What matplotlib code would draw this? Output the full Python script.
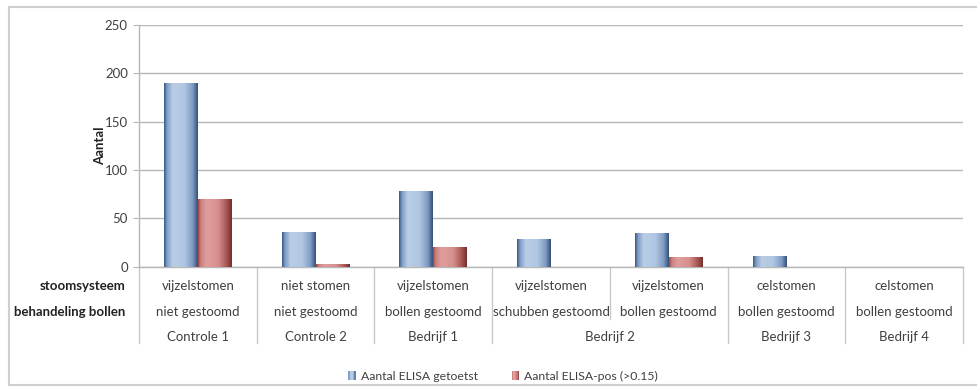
import numpy as np
import matplotlib
matplotlib.use("Agg")
import matplotlib.pyplot as plt
from matplotlib.colors import LinearSegmentedColormap
from matplotlib.legend_handler import HandlerBase
from matplotlib.patches import Rectangle
from matplotlib.lines import Line2D
import matplotlib.transforms as mtransforms

plt.rcParams['font.family'] = ['Lato', 'DejaVu Sans']

# --- data -------------------------------------------------------------
stoomsysteem = ["vijzelstomen", "niet stomen", "vijzelstomen", "vijzelstomen",
                "vijzelstomen", "celstomen", "celstomen"]
behandeling = ["niet gestoomd", "niet gestoomd", "bollen gestoomd",
               "schubben gestoomd", "bollen gestoomd", "bollen gestoomd",
               "bollen gestoomd"]
bedrijven = ["Controle 1", "Controle 2", "Bedrijf 1", "Bedrijf 2",
             "Bedrijf 3", "Bedrijf 4"]
bedrijf_span = [1, 1, 1, 2, 1, 1]          # number of categories per company
getoetst = [190, 36, 78, 28, 35, 11, 0]
elisa_pos = [70, 3, 20, 0, 10, 0, 0]
series_names = ["Aantal ELISA getoetst", "Aantal ELISA-pos (>0.15)"]
yticks = [0, 50, 100, 150, 200, 250]

# --- styling ----------------------------------------------------------
blue_cmap = LinearSegmentedColormap.from_list("blue_bar", [
    (0.00, "#3a5a85"), (0.08, "#7d9bc5"), (0.25, "#b9cde5"),
    (0.60, "#b0c6e2"), (0.85, "#7f9cc4"), (1.00, "#36527a")])
red_cmap = LinearSegmentedColormap.from_list("red_bar", [
    (0.00, "#a04a48"), (0.08, "#cd8280"), (0.25, "#df9f9d"),
    (0.60, "#d68f8d"), (0.85, "#a85553"), (1.00, "#74302e")])
cmaps = [blue_cmap, red_cmap]
text_col = "#404040"
grid_col = "#b7b7b7"

W, H = 978, 390
fig = plt.figure(figsize=(W / 100, H / 100), dpi=100)
x0, x1, ytop, ybase = 139, 963, 25, 266.7
ax = fig.add_axes([x0 / W, 1 - ybase / H, (x1 - x0) / W, (ybase - ytop) / H])

n = len(getoetst)
x = np.arange(n)
bw = 0.288
grad = np.linspace(0, 1, 64).reshape(1, -1)

for si, vals in enumerate([getoetst, elisa_pos]):
    offs = -bw / 2 if si == 0 else bw / 2
    bars = ax.bar(x + offs, vals, width=bw, color="none", edgecolor="none", zorder=3)
    for b in bars:
        h = b.get_height()
        if h <= 0:
            continue
        bx = b.get_x()
        ax.imshow(grad, cmap=cmaps[si], aspect="auto", zorder=3,
                  extent=(bx, bx + b.get_width(), 0, h), interpolation="bilinear")

ax.set_xlim(-0.5, n - 0.5)
ax.set_ylim(0, 250)
ax.set_yticks(yticks)
ax.set_yticklabels([str(v) for v in yticks], fontsize=9.5, color=text_col)
ax.set_xticks([])
ax.tick_params(axis="y", length=4, color=grid_col, pad=4)
ax.yaxis.grid(True, color=grid_col, linewidth=1.0, zorder=0)
ax.set_axisbelow(True)
for side in ["top", "right"]:
    ax.spines[side].set_visible(False)
for side in ["left", "bottom"]:
    ax.spines[side].set_color(grid_col)
    ax.spines[side].set_linewidth(1.0)

ax.set_ylabel("Aantal", fontsize=9.5, fontweight="bold", color="#222222")
ax.yaxis.set_label_coords((106 - x0) / (x1 - x0), 0.5)

# --- multi-level category axis ---------------------------------------
trans = mtransforms.blended_transform_factory(ax.transData, ax.transAxes)
ah = ybase - ytop
def ay(py):
    return (ybase - py) / ah

row1, row2, row3 = ay(286), ay(312), ay(337)
for i in range(n):
    ax.text(i, row1, stoomsysteem[i], transform=trans, ha="center", va="center",
            fontsize=9.5, color=text_col)
    ax.text(i, row2, behandeling[i], transform=trans, ha="center", va="center",
            fontsize=9.5, color=text_col)

start = 0
edges = [-0.5]
for name, span in zip(bedrijven, bedrijf_span):
    centre = start + (span - 1) / 2
    ax.text(centre, row3, name, transform=trans, ha="center", va="center",
            fontsize=9.5, color=text_col)
    start += span
    edges.append(start - 0.5)

long_end, short_end = ay(343), ay(319)
for i in range(n + 1):
    xe = i - 0.5
    end = long_end if xe in edges else short_end
    ax.add_line(Line2D([xe, xe], [0, end], transform=trans, color="#c8c8c8",
                       linewidth=1.0, clip_on=False))

fig.text(125 / W, 1 - 286 / H, "stoomsysteem", ha="right", va="center",
         fontsize=9.5, fontweight="bold", color="#222222")
fig.text(125 / W, 1 - 312 / H, "behandeling bollen", ha="right", va="center",
         fontsize=9.5, fontweight="bold", color="#222222")

# --- legend ----------------------------------------------------------
class StripeHandler(HandlerBase):
    def __init__(self, cmap):
        super().__init__()
        self.cmap = cmap

    def create_artists(self, legend, orig_handle, xdescent, ydescent,
                       width, height, fontsize, trans):
        arts = []
        k = 5
        for j in range(k):
            c = self.cmap((j + 0.5) / k)
            arts.append(Rectangle((-xdescent + j * width / k, -ydescent),
                                  width / k, height, facecolor=c,
                                  edgecolor="none", transform=trans))
        return arts

h1 = Rectangle((0, 0), 1, 1)
h2 = Rectangle((0, 0), 1, 1)
fig.legend([h1, h2], series_names, loc="center", bbox_to_anchor=(503 / W, 1 - 376 / H),
           ncol=2, frameon=False, fontsize=8.8, handlelength=0.6, handleheight=0.7,
           handletextpad=0.4, columnspacing=2.8, labelcolor=text_col,
           handler_map={h1: StripeHandler(blue_cmap), h2: StripeHandler(red_cmap)})

# --- chart border ----------------------------------------------------
border_col = "#cfcfcf"
for xs, ys in [([9, 9], [7, 385]), ([9, W + 5], [7, 7]), ([9, W + 5], [385, 385])]:
    fig.add_artist(Line2D([v / W for v in xs], [1 - v / H for v in ys],
                          transform=fig.transFigure, color=border_col, linewidth=1.5))

fig.savefig("out.png", dpi=100, facecolor="white")
